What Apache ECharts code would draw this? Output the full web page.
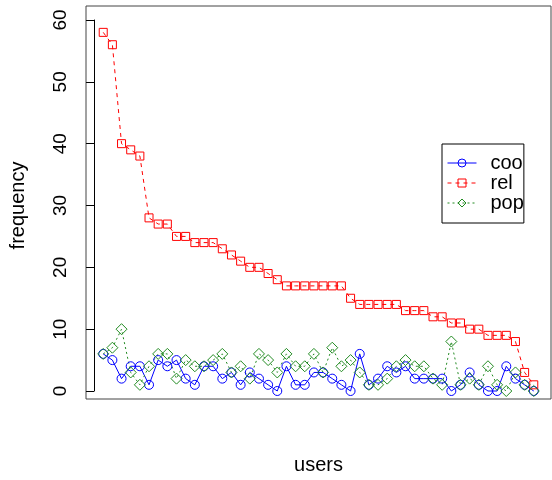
<!DOCTYPE html>
<html>
<head>
<meta charset="utf-8">
<script src="https://cdn.jsdelivr.net/npm/echarts@6/dist/echarts.min.js"></script>
<style>html,body{margin:0;padding:0;background:#fff;}#c{width:552px;height:480px;}</style>
</head>
<body>
<div id="c"></div>
<script>
// Data (48 users, sorted by rel)
var seriesNames = ['coo', 'rel', 'pop'];
var coo = [6,5,2,4,4,1,5,4,5,2,1,4, 4,2,3,1,3,2,1,0,4,1,1,3, 3,2,1,0,6,1,2,4,3,4,2,2, 2,2,0,1,3,1,0,0,4,2,1,0];
var rel = [58,56,40,39,38,28,27,27,25,25,24,24, 24,23,22,21,20,20,19,18,17,17,17,17, 17,17,17,15,14,14,14,14,14,13,13,13, 12,12,11,11,10,10,9,9,9,8,3,1];
var pop = [6,7,10,3,1,4,6,6,2,5,4,4, 5,6,3,4,2,6,5,3,6,4,4,6, 3,7,4,5,3,1,1,2,4,5,4,4, 2,1,8,1,2,1,4,1,0,3,1,0];
var yTicks = [0, 10, 20, 30, 40, 50, 60];

var FONT = '"Liberation Sans", Arial, Helvetica, sans-serif';
function pairs(arr) { return arr.map(function (v, i) { return [i + 1, v]; }); }
var n = rel.length;
var xPad = 0.04 * (n - 1);

var chart = echarts.init(document.getElementById('c'), null, {renderer: 'canvas'});
chart.setOption({
  animation: false,
  backgroundColor: '#fff',
  textStyle: {fontFamily: FONT},
  grid: [
    {left: 86, width: 465, top: 20, height: 371, show: false},
    {left: 86, width: 465, top: 6, height: 393, show: true, borderColor: '#444', borderWidth: 1, backgroundColor: 'transparent'}
  ],
  xAxis: [
    {type: 'value', gridIndex: 0, min: 1 - xPad, max: n + xPad,
     axisLine: {show: false}, axisTick: {show: false}, axisLabel: {show: false}, splitLine: {show: false},
     name: 'users', nameLocation: 'middle', nameGap: 64,
     nameTextStyle: {fontFamily: FONT, fontSize: 20, color: '#000'}},
    {type: 'value', gridIndex: 1, show: false}
  ],
  yAxis: [
    {type: 'value', gridIndex: 0, min: yTicks[0], max: yTicks[yTicks.length - 1], interval: 10,
     axisLine: {show: true, lineStyle: {color: '#000', width: 1}},
     axisTick: {show: true, length: 8, lineStyle: {color: '#000', width: 1}},
     axisLabel: {show: true, rotate: 90, margin: 16, fontFamily: FONT, fontSize: 19, color: '#000'},
     splitLine: {show: false},
     name: 'frequency', nameLocation: 'middle', nameRotate: 90, nameGap: 58,
     nameTextStyle: {fontFamily: FONT, fontSize: 20, color: '#000'}},
    {type: 'value', gridIndex: 1, show: false}
  ],
  legend: {
    orient: 'vertical', left: 442, top: 144,
    padding: [9, 0, 10, 5], itemGap: 0, itemWidth: 29, itemHeight: 10,
    borderColor: '#000', borderWidth: 1, backgroundColor: '#fff',
    itemStyle: {borderWidth: 1},
    lineStyle: {width: 1},
    textStyle: {fontFamily: FONT, fontSize: 20, color: '#000', padding: [0, 0, 0, 9]},
    data: seriesNames
  },
  series: [
    {name: 'coo', type: 'line', xAxisIndex: 0, yAxisIndex: 0, data: pairs(coo), clip: false,
     symbol: 'circle', symbolSize: 9, showAllSymbol: true,
     lineStyle: {color: '#0000ff', width: 1, type: 'solid'},
     itemStyle: {color: 'rgba(0,0,0,0)', borderColor: '#0000ff', borderWidth: 1}},
    {name: 'rel', type: 'line', xAxisIndex: 0, yAxisIndex: 0, data: pairs(rel), clip: false,
     symbol: 'rect', symbolSize: 8, showAllSymbol: true,
     lineStyle: {color: '#ff0000', width: 1, type: [4, 4]},
     itemStyle: {color: 'rgba(0,0,0,0)', borderColor: '#ff0000', borderWidth: 1}},
    {name: 'pop', type: 'line', xAxisIndex: 0, yAxisIndex: 0, data: pairs(pop), clip: false,
     symbol: 'diamond', symbolSize: 11, showAllSymbol: true,
     lineStyle: {color: '#228b22', width: 1, type: [2, 3]},
     itemStyle: {color: 'rgba(0,0,0,0)', borderColor: '#228b22', borderWidth: 1}}
  ]
});
</script>
</body>
</html>
